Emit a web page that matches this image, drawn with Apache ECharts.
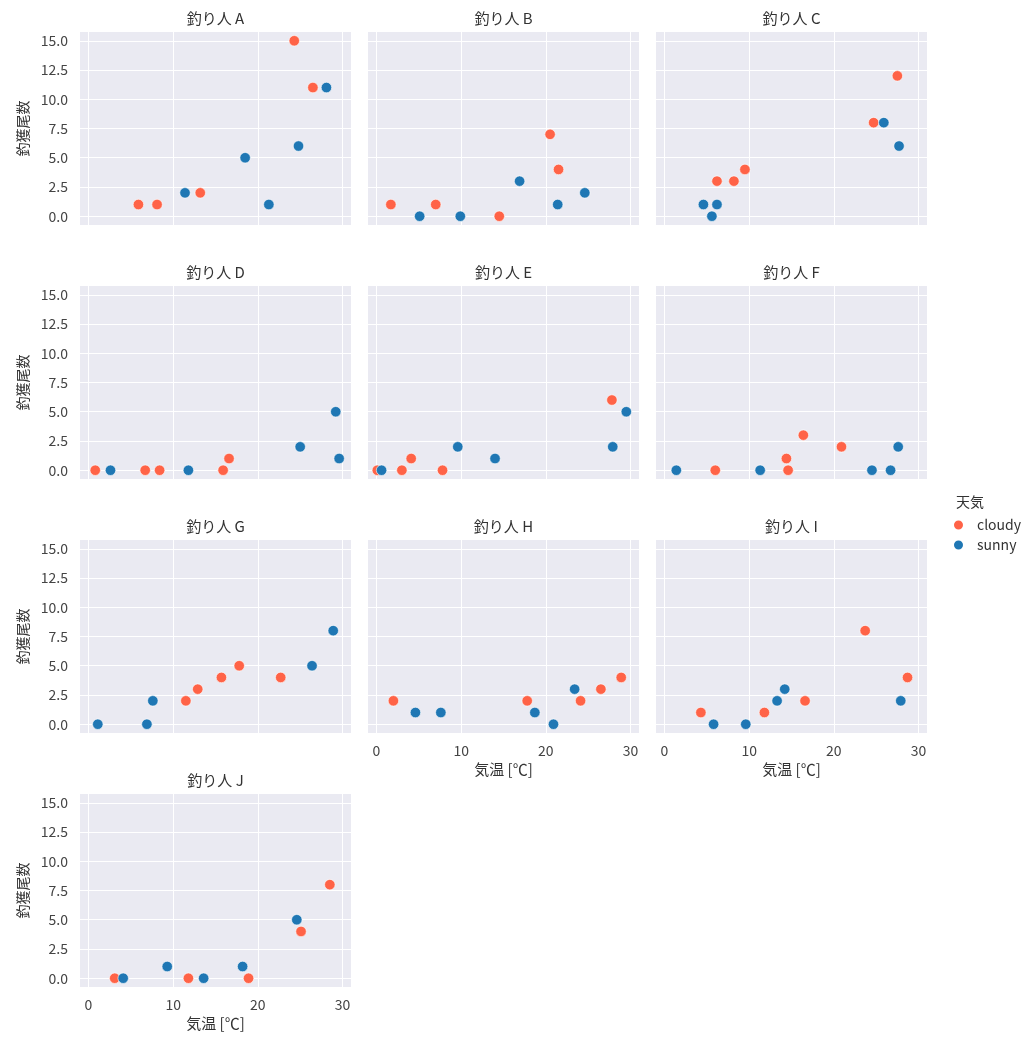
<!DOCTYPE html>
<html>
<head>
<meta charset="utf-8">
<script src="https://cdn.jsdelivr.net/npm/echarts@6/dist/echarts.min.js"></script>
<style>
  html, body { margin: 0; padding: 0; background: #fff; }
  #main { width: 1028px; height: 1040px; }
</style>
</head>
<body>
<div id="main"></div>
<script>
// anglers (one panel each)
var anglers = ['A', 'B', 'C', 'D', 'E', 'F', 'G', 'H', 'I', 'J'];

// temperature [℃] and catch per angler, split by weather
var cloudyTemp = [
  [5.9, 8.1, 13.2, 24.3, 26.5],
  [1.7, 7.0, 14.5, 20.5, 21.5],
  [6.2, 8.2, 9.5, 24.7, 27.5],
  [0.8, 6.7, 8.4, 15.9, 16.6],
  [0.1, 3.0, 4.1, 7.8, 27.8],
  [6.0, 14.4, 14.6, 16.4, 20.9],
  [11.5, 12.9, 15.7, 17.8, 22.7],
  [2.0, 17.8, 24.1, 26.5, 28.9],
  [4.3, 11.8, 16.6, 23.7, 28.7],
  [3.1, 11.8, 18.9, 25.1, 28.5]
];
var cloudyCatch = [
  [1, 1, 2, 15, 11],
  [1, 1, 0, 7, 4],
  [3, 3, 4, 8, 12],
  [0, 0, 0, 0, 1],
  [0, 0, 1, 0, 6],
  [0, 1, 0, 3, 2],
  [2, 3, 4, 5, 4],
  [2, 2, 2, 3, 4],
  [1, 1, 2, 8, 4],
  [0, 0, 0, 4, 8]
];
var sunnyTemp = [
  [11.4, 18.5, 21.3, 24.8, 28.1],
  [5.1, 9.9, 16.9, 21.4, 24.6],
  [4.6, 5.6, 6.2, 25.9, 27.7],
  [2.6, 11.8, 25.0, 29.2, 29.6],
  [0.6, 9.6, 14.0, 27.9, 29.5],
  [1.4, 11.3, 24.5, 26.7, 27.6],
  [1.1, 6.9, 7.6, 26.4, 28.9],
  [4.6, 7.6, 18.7, 20.9, 23.4],
  [5.8, 9.6, 13.3, 14.2, 27.9],
  [4.1, 9.3, 13.6, 18.2, 24.6]
];
var sunnyCatch = [
  [2, 5, 1, 6, 11],
  [0, 0, 3, 1, 2],
  [1, 0, 1, 8, 6],
  [0, 0, 2, 5, 1],
  [0, 2, 1, 2, 5],
  [0, 0, 0, 0, 2],
  [0, 0, 2, 5, 8],
  [1, 1, 1, 0, 3],
  [0, 0, 2, 3, 2],
  [0, 1, 0, 1, 5]
];

var xTicks = [0, 10, 20, 30];
var yTicks = [0, 2.5, 5, 7.5, 10, 12.5, 15];

var colLeft = [80, 368, 656];
var rowTop = [32, 286, 540, 794];
var plotW = 271, plotH = 193;
var font = '"Noto Sans CJK JP", "Noto Sans", sans-serif';

function zip(xs, ys) {
  return xs.map(function (x, k) { return [x, ys[k]]; });
}

var grids = [], xAxes = [], yAxes = [], titles = [], series = [];

anglers.forEach(function (name, i) {
  var row = Math.floor(i / 3), col = i % 3;
  var showX = i >= 7;
  var showY = col === 0;
  grids.push({
    left: colLeft[col], top: rowTop[row], width: plotW, height: plotH,
    show: true, backgroundColor: '#EAEAF2', borderWidth: 0
  });
  titles.push({
    text: '釣り人 ' + name,
    left: colLeft[col] + plotW / 2, top: rowTop[row] - 21,
    textAlign: 'center', padding: 0,
    textStyle: { fontFamily: font, fontSize: 15, fontWeight: 'normal', color: '#333' }
  });
  xAxes.push({
    type: 'value', gridIndex: i, min: -1, max: 31,
    name: showX ? '気温 [℃]' : '', nameLocation: 'middle', nameGap: 29,
    nameTextStyle: { fontFamily: font, fontSize: 15, color: '#333' },
    axisLine: { show: false }, axisTick: { show: false, customValues: xTicks },
    axisLabel: { show: showX, customValues: xTicks, margin: 11,
      fontFamily: font, fontSize: 14, color: '#444' },
    splitLine: { show: true, customValues: xTicks, lineStyle: { color: '#fff', width: 1 } }
  });
  yAxes.push({
    type: 'value', gridIndex: i, min: -0.75, max: 15.75,
    name: showY ? '釣獲尾数' : '', nameLocation: 'middle', nameGap: 50,
    nameTextStyle: { fontFamily: font, fontSize: 14, color: '#333' },
    axisLine: { show: false }, axisTick: { show: false, customValues: yTicks },
    axisLabel: { show: showY, customValues: yTicks, margin: 12,
      fontFamily: font, fontSize: 14, color: '#444',
      formatter: function (v) { return v.toFixed(1); } },
    splitLine: { show: true, customValues: yTicks, lineStyle: { color: '#fff', width: 1 } }
  });
  series.push({
    name: 'cloudy', type: 'scatter', xAxisIndex: i, yAxisIndex: i,
    symbolSize: 10.5, data: zip(cloudyTemp[i], cloudyCatch[i]),
    itemStyle: { color: '#FF6347', borderColor: '#fff', borderWidth: 0.6, opacity: 1 }
  });
  series.push({
    name: 'sunny', type: 'scatter', xAxisIndex: i, yAxisIndex: i,
    symbolSize: 10.5, data: zip(sunnyTemp[i], sunnyCatch[i]),
    itemStyle: { color: '#1F77B4', borderColor: '#fff', borderWidth: 0.6, opacity: 1 }
  });
});

// legend title
titles.push({
  text: '天気', left: 970, top: 495, textAlign: 'center', padding: 0,
  textStyle: { fontFamily: font, fontSize: 14, fontWeight: 'normal', color: '#333' }
});

var chart = echarts.init(document.getElementById('main'));
chart.setOption({
  animation: false,
  backgroundColor: '#fff',
  title: titles,
  grid: grids,
  xAxis: xAxes,
  yAxis: yAxes,
  legend: {
    data: ['cloudy', 'sunny'],
    orient: 'vertical', left: 947, top: 513,
    icon: 'circle', itemWidth: 11, itemHeight: 11, itemGap: 6,
    textStyle: { fontFamily: font, fontSize: 14, color: '#333', padding: [0, 0, 0, 8] }
  },
  series: series
});
</script>
</body>
</html>
